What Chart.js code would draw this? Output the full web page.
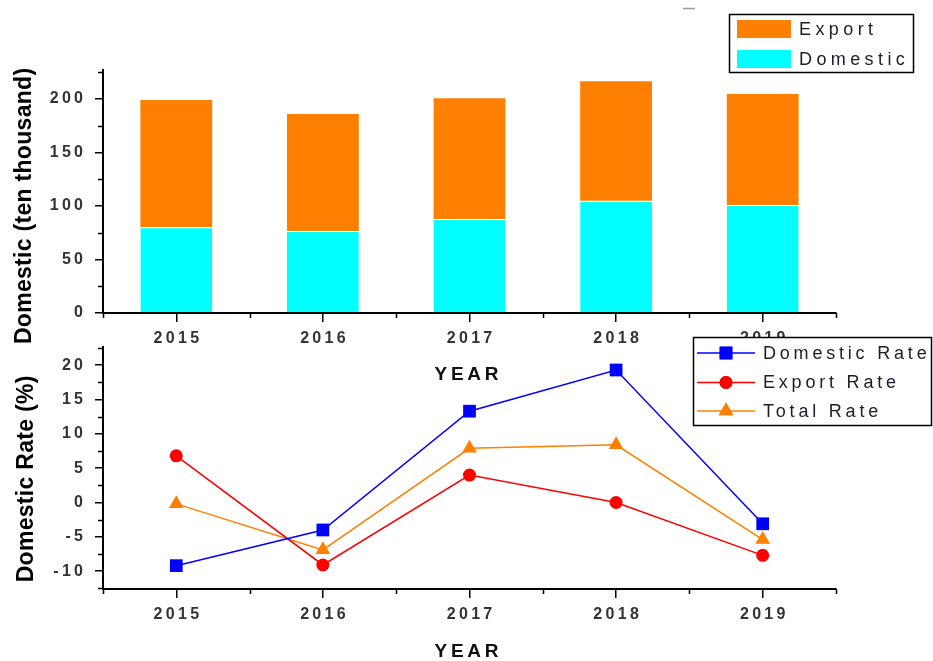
<!DOCTYPE html>
<html>
<head>
<meta charset="utf-8">
<script src="https://cdn.jsdelivr.net/npm/chart.js@4/dist/chart.umd.min.js"></script>
<style>
  html, body { margin: 0; padding: 0; background: #fff; width: 933px; height: 661px; overflow: hidden; }
  #wrap { position: relative; width: 933px; height: 661px; }
  #volumeChart { position: absolute; left: 0; top: 0; }
  #rateChart { position: absolute; left: 0; top: 330px; }
</style>
</head>
<body>
<div id="wrap">
  <canvas id="volumeChart" width="933" height="400"></canvas>
  <canvas id="rateChart" width="933" height="331"></canvas>
</div>
<script>
// Yearly sales volume (ten thousand) split into domestic and export
const years = ['2015', '2016', '2017', '2018', '2019'];
const domestic = [80.2, 76.5, 87.7, 104.8, 101.0];
const exportVol = [118.8, 109.5, 112.9, 111.6, 103.6];

// Year-on-year growth rates (%)
const domesticRate = [-9.2, -4.0, 13.3, 19.3, -3.1];
const exportRate = [6.8, -9.1, 4.0, 0.0, -7.7];
const totalRate = [-0.2, -6.9, 7.9, 8.4, -5.4];

// Axis ranges and tick steps
const volumeAxis = { min: 0, max: 227, step: 50, minorStep: 25 };
const rateAxis = { min: -12.6, max: 22.65, step: 5, minorStep: 2.5 };

const FONT = '"Liberation Sans", Arial, Helvetica, sans-serif';
const ORANGE = '#FF8000';
const CYAN = '#00FFFF';

function spacedText(ctx, text, x, y, align, spacing) {
  ctx.letterSpacing = '0px';
  const w = ctx.measureText(text).width + spacing * (text.length - 1);
  let left = x;
  if (align === 'center') left = x - w / 2;
  else if (align === 'right') left = x - w;
  ctx.letterSpacing = spacing + 'px';
  ctx.textAlign = 'left';
  ctx.fillText(text, left, y);
  ctx.letterSpacing = '0px';
}

function drawMinorTicks(chart, minorStep, yMin, yMax) {
  const ctx = chart.ctx;
  const xs = chart.scales.x, ys = chart.scales.y;
  const area = chart.chartArea;
  ctx.save();
  ctx.strokeStyle = '#000';
  ctx.lineWidth = 1.5;
  ctx.beginPath();
  // x: ticks halfway between categories (and at both ends)
  for (let i = 0; i <= chart.data.labels.length; i++) {
    const px = Math.round(xs.getPixelForValue(i - 0.5)) + 0.5;
    ctx.moveTo(px, area.bottom);
    ctx.lineTo(px, area.bottom + 5);
  }
  // y: odd multiples of minorStep
  const first = Math.ceil(yMin / minorStep);
  for (let k = first; k * minorStep <= yMax + 1e-9; k++) {
    if (Math.abs(k % 2) !== 1) continue;
    const py = Math.round(ys.getPixelForValue(k * minorStep)) + 0.5;
    ctx.moveTo(area.left - 5, py);
    ctx.lineTo(area.left, py);
  }
  ctx.stroke();
  ctx.restore();
}

function drawTickLabels(chart) {
  const ctx = chart.ctx;
  const xs = chart.scales.x, ys = chart.scales.y;
  const area = chart.chartArea;
  ctx.save();
  ctx.font = 'bold 16px ' + FONT;
  ctx.fillStyle = '#333';
  ctx.textBaseline = 'middle';
  xs.ticks.forEach((t, i) => {
    spacedText(ctx, chart.data.labels[t.value], xs.getPixelForTick(i), area.bottom + 26, 'center', 3.3);
  });
  ys.ticks.forEach((t) => {
    spacedText(ctx, String(t.value), 83, ys.getPixelForValue(t.value), 'right', 3.3);
  });
  ctx.restore();
}

function drawTitles(chart, yTitle, yCenterX, yCenterY, yearY) {
  const ctx = chart.ctx;
  const area = chart.chartArea;
  ctx.save();
  ctx.fillStyle = '#000';
  ctx.textBaseline = 'middle';
  ctx.font = 'bold 23px ' + FONT;
  ctx.save();
  ctx.translate(yCenterX, yCenterY);
  ctx.rotate(-Math.PI / 2);
  spacedText(ctx, yTitle, 0, 0, 'center', 0.3);
  ctx.restore();
  ctx.font = 'bold 19px ' + FONT;
  ctx.fillStyle = '#111';
  spacedText(ctx, 'YEAR', (area.left + area.right) / 2 - 3, yearY, 'center', 3.8);
  ctx.restore();
}

const volumeDecor = {
  id: 'volumeDecor',
  afterDraw(chart) {
    const ctx = chart.ctx;
    drawMinorTicks(chart, volumeAxis.minorStep, volumeAxis.min, volumeAxis.max);
    drawTickLabels(chart);
    drawTitles(chart, 'Domestic (ten thousand)', 25, 206, 375);

    // small mark above the legend
    ctx.save();
    ctx.strokeStyle = '#999';
    ctx.lineWidth = 1.5;
    ctx.beginPath();
    ctx.moveTo(683, 8.5);
    ctx.lineTo(695, 8.5);
    ctx.stroke();

    // legend
    ctx.fillStyle = '#fff';
    ctx.fillRect(729, 14, 185, 59);
    ctx.strokeStyle = '#000';
    ctx.lineWidth = 1.5;
    ctx.strokeRect(729.5, 14.5, 184, 58);
    const rows = [
      { label: 'Export', color: ORANGE, y: 29 },
      { label: 'Domestic', color: CYAN, y: 59 }
    ];
    ctx.font = '18px ' + FONT;
    ctx.textBaseline = 'middle';
    rows.forEach(r => {
      ctx.fillStyle = r.color;
      ctx.fillRect(737, r.y - 9, 54, 18);
      ctx.fillStyle = '#1c1c2c';
      spacedText(ctx, r.label, 799, r.y + 1, 'left', 4.4);
    });
    ctx.restore();
  }
};

function axisBase() {
  return {
    grid: { display: true, drawOnChartArea: false, drawTicks: true, color: '#000', lineWidth: 1.5 },
    border: { display: true, color: '#000', width: 2 },
  };
}

new Chart(document.getElementById('volumeChart'), {
  type: 'bar',
  data: {
    labels: years,
    datasets: [
      {
        label: 'Domestic', data: domestic, backgroundColor: CYAN,
        borderColor: '#fff', borderWidth: { top: 1, left: 0, right: 0, bottom: 0 }, borderSkipped: false,
        categoryPercentage: 1, barPercentage: 0.49
      },
      {
        label: 'Export', data: exportVol, backgroundColor: ORANGE, borderWidth: 0,
        categoryPercentage: 1, barPercentage: 0.49
      }
    ]
  },
  options: {
    responsive: false,
    animation: false,
    devicePixelRatio: 1,
    layout: { padding: { left: 0, top: 70, right: 97, bottom: 0 } },
    plugins: { legend: { display: false }, tooltip: { enabled: false } },
    scales: {
      x: Object.assign(axisBase(), {
        type: 'category', stacked: true, offset: true,
        ticks: { display: false },
        afterFit(s) { s.height = 87; }
      }),
      y: Object.assign(axisBase(), {
        type: 'linear', stacked: true, min: volumeAxis.min, max: volumeAxis.max,
        ticks: { display: false, stepSize: volumeAxis.step, includeBounds: false },
        afterFit(s) { s.width = 103; }
      })
    }
  },
  plugins: [volumeDecor]
});
Chart.getChart('volumeChart').options.scales.x.grid.tickLength = 9;
Chart.getChart('volumeChart').options.scales.x.grid.offset = false;
Chart.getChart('volumeChart').options.scales.y.grid.tickLength = 8;
Chart.getChart('volumeChart').update();

const rateSeries = [
  { label: 'Domestic Rate', data: domesticRate, color: '#0000FF', style: 'rect', radius: 9 },
  { label: 'Export Rate', data: exportRate, color: '#FF0000', style: 'circle', radius: 6.5 },
  { label: 'Total Rate', data: totalRate, color: ORANGE, style: 'triangle', radius: 8.5 }
];

const rateDecor = {
  id: 'rateDecor',
  afterDraw(chart) {
    const ctx = chart.ctx;
    drawMinorTicks(chart, rateAxis.minorStep, rateAxis.min, rateAxis.max);
    drawTickLabels(chart);
    drawTitles(chart, 'Domestic Rate (%)', 27, 149, 321.5);

    // legend
    ctx.save();
    ctx.fillStyle = '#fff';
    ctx.fillRect(693, 7, 239, 89);
    ctx.strokeStyle = '#000';
    ctx.lineWidth = 1.5;
    ctx.strokeRect(693.5, 7.5, 238, 88);
    const rowY = [23, 52.5, 81];
    ctx.font = '18px ' + FONT;
    ctx.textBaseline = 'middle';
    rateSeries.forEach((s, i) => {
      const y = rowY[i];
      ctx.strokeStyle = s.color;
      ctx.lineWidth = 1.5;
      ctx.beginPath();
      ctx.moveTo(697, y);
      ctx.lineTo(755, y);
      ctx.stroke();
      ctx.fillStyle = s.color;
      Chart.helpers.drawPoint(ctx, { pointStyle: s.style, radius: s.radius, borderWidth: 0, rotation: 0 }, 726, y);
      ctx.fill();
      ctx.fillStyle = '#1c1c2c';
      spacedText(ctx, s.label, 763, y + 1, 'left', 3.8);
    });
    ctx.restore();
  }
};

new Chart(document.getElementById('rateChart'), {
  type: 'line',
  data: {
    labels: years,
    datasets: rateSeries.map(s => ({
      label: s.label, data: s.data,
      borderColor: s.color, backgroundColor: s.color,
      borderWidth: 1.5, tension: 0,
      pointStyle: s.style, pointRadius: s.radius,
      pointBackgroundColor: s.color, pointBorderColor: s.color, pointBorderWidth: 0
    }))
  },
  options: {
    responsive: false,
    animation: false,
    devicePixelRatio: 1,
    layout: { padding: { left: 0, top: 17, right: 97, bottom: 0 } },
    plugins: { legend: { display: false }, tooltip: { enabled: false } },
    scales: {
      x: Object.assign(axisBase(), {
        type: 'category', offset: true,
        ticks: { display: false },
        afterFit(s) { s.height = 72; }
      }),
      y: Object.assign(axisBase(), {
        type: 'linear', min: rateAxis.min, max: rateAxis.max,
        ticks: { display: false, stepSize: rateAxis.step, includeBounds: false },
        afterFit(s) { s.width = 103; }
      })
    }
  },
  plugins: [rateDecor]
});
Chart.getChart('rateChart').options.scales.x.grid.tickLength = 9;
Chart.getChart('rateChart').options.scales.x.grid.offset = false;
Chart.getChart('rateChart').options.scales.y.grid.tickLength = 8;
Chart.getChart('rateChart').update();
</script>
</body>
</html>
